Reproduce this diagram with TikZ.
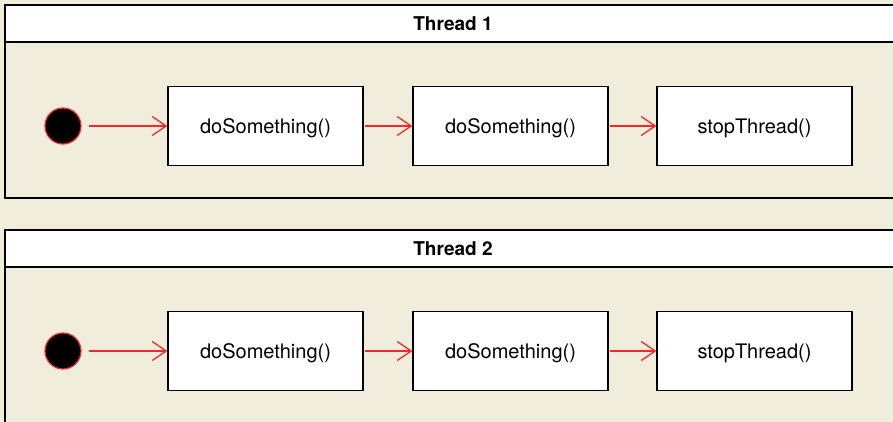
\documentclass[tikz,border=0pt]{standalone}
\usepackage{fontspec}
\setmainfont{TeX Gyre Heros}
\usetikzlibrary{calc}
\usetikzlibrary{arrows.meta}

\definecolor{panelbg}{RGB}{240,237,220}
\definecolor{flowred}{RGB}{245,40,40}

\begin{document}
\begin{tikzpicture}[x=1pt, y=-1pt, statebox/.style={draw=black, fill=white, line width=1.3pt, minimum width=195pt, minimum height=79pt, inner sep=0pt, text depth=0pt, font=\fontsize{20}{24}\selectfont}, startnode/.style={circle, fill=black, draw=flowred, line width=1.2pt, minimum size=36pt, inner sep=0pt}, flow/.style={draw=flowred, line width=1.3pt, -{Straight Barb[length=14pt, width=19pt]}}, titlenode/.style={font=\fontsize{19}{22}\selectfont\bfseries}]
			\fill[panelbg] (0,0) rectangle (893,421);
			\useasboundingbox (0,0) rectangle (893,421);
			\clip (0,0) rectangle (893,421);

			% swimlanes
			\draw[line width=1.6pt, fill=panelbg] (5,5) rectangle (905,198);
			\draw[line width=1.6pt, fill=white] (5,5) rectangle (905,42);
			\draw[line width=1.6pt, fill=panelbg] (5,230) rectangle (905,430);
			\draw[line width=1.6pt, fill=white] (5,230) rectangle (905,267);

			\node[titlenode] (title1) at (453,23.5) {Thread 1};
			\node[titlenode] (title2) at (453,248.5) {Thread 2};

			% thread 1
			\node[startnode] (start1) at (63,126) {};
			\node[statebox] (do11) at (265.5,126) {doSomething()};
			\node[statebox] (do12) at ($(do11) + (245,0)$) {doSomething()};
			\node[statebox] (stop1) at ($(do12) + (244,0)$) {stopThread()};

			% thread 2
			\node[startnode] (start2) at ($(start1) + (0,225)$) {};
			\node[statebox] (do21) at ($(do11) + (0,225)$) {doSomething()};
			\node[statebox] (do22) at ($(do12) + (0,225)$) {doSomething()};
			\node[statebox] (stop2) at ($(stop1) + (0,225)$) {stopThread()};

			\draw[flow, shorten <=7pt] (start1) -- (do11);
			\draw[flow, shorten <=1pt] (do11) -- (do12);
			\draw[flow, shorten <=1pt] (do12) -- (stop1);

			\draw[flow, shorten <=7pt] (start2) -- (do21);
			\draw[flow, shorten <=1pt] (do21) -- (do22);
			\draw[flow, shorten <=1pt] (do22) -- (stop2);

		\end{tikzpicture}
\end{document}
